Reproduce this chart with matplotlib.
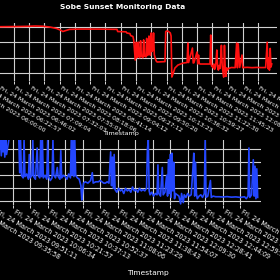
import matplotlib
matplotlib.use("Agg")
import matplotlib.pyplot as plt

# ---------------- data ----------------
title = "Sobe Sunset Monitoring Data"
xlabel = "Timestamp"

# top series (sample index, value)
top_idx = [0, 21, 42, 68, 77, 88, 98, 107, 116, 122, 124, 128, 133, 147, 173, 195, 196, 207, 208, 212, 213, 216, 217,
           219, 220, 221, 222, 223, 224, 225, 226, 227, 228, 229, 230, 231, 232, 233, 234, 235, 236, 237, 238, 239,
           240, 241, 242, 243, 244, 245, 246, 247, 248, 258, 259, 260, 262, 263, 265, 266, 267, 268, 271, 275, 282,
           287, 288, 289, 294, 295, 296, 300, 301, 302, 303, 304, 317, 318, 319,
           320, 321, 322, 323, 324, 325, 326, 327, 328, 329, 330, 331, 332, 333, 334, 335, 336, 337, 338, 339, 340,
           341, 345, 350, 352, 353, 354, 356, 359, 360, 361, 366, 372, 378, 384, 390, 392, 393, 394, 395, 396, 397, 398]
top_val = [100, 100, 100, 100.3, 100.5, 100.9, 100.6, 99.6, 97.7, 95.1, 93.8, 95.1, 96.6, 97.0, 96.9, 96.6, 93.8, 93.4,
           91.9, 91.2, 88.6, 87.4, 82.8,
           57, 80, 60, 62, 80, 61, 60, 82, 62, 61, 60, 83, 62, 62, 61, 85, 63, 64, 88, 65, 63,
           92, 68, 70, 92, 64, 60, 57, 55, 54.5, 55, 93.6, 94.5, 94.2, 93.5, 91.9, 88, 35.1, 37.7, 46.7, 50.6, 53.2,
           53.8, 79, 53.8, 72.5, 53.2, 53.5, 67.4, 52, 63.5, 52.5, 51.9, 51.9, 89.3, 49.3,
           49, 47, 52, 45, 48, 55, 70, 48, 44, 50, 46, 58, 76, 50, 42, 35, 76, 45, 36, 47, 44,
           46, 47.4, 47.2, 79, 47, 78, 47.5, 63.5, 47, 47.4, 47.6, 47.2, 47.5, 47.3, 47.4, 80, 46, 60, 44, 72, 48, 52]

top_ticks = list(range(0, 400, 20))
top_labels = ["Fri, 24 March 2023 " + t for t in [
    "06:00:00", "06:22:57", "06:46:02", "07:09:04", "07:32:03", "07:55:01", "08:18:06", "08:41:14",
    "09:04:12", "09:27:12", "09:50:20", "10:13:23", "10:36:32", "10:59:27", "11:22:30", "11:45:23",
    "12:08:26", "12:31:29", "12:54:33", "13:17:36"]]
top_yticks = [40, 60, 80, 100]

# bottom series (sample index, value)
bot_idx = [0, 4, 8, 12, 16, 20, 24, 25, 26, 27, 28, 29, 30, 31, 32, 33, 36, 40, 44, 47,
           48, 49, 50, 52, 53, 54, 56, 58, 59, 60, 62, 63, 64, 66, 68, 69, 71, 72, 73, 74, 75, 77, 79, 80, 81, 83,
           85, 86, 87, 89, 91, 92, 94, 95, 96, 98, 100, 102, 104, 106, 107, 108, 109, 110, 111, 112, 114, 116, 118,
           119, 120, 121, 123, 126, 129, 131, 132, 135, 138, 140, 142, 144, 146, 148, 150, 152, 153, 154, 155, 156,
           157, 159, 161, 163, 165, 167, 169, 171, 173, 175, 177, 179, 181, 183, 185, 187, 189, 191, 193, 194, 195,
           196, 197, 199, 201, 203, 205, 206, 207, 209, 211, 212, 214, 216, 217, 218, 219, 220, 221, 222, 223, 224,
           225, 226, 228, 230, 232, 233, 235, 236, 238, 240, 242, 244, 246, 247, 248, 249, 250, 251, 253, 255, 257,
           259, 260, 261, 263, 266, 267, 269, 272, 276, 280, 285, 290, 295, 300, 305, 307, 309, 310, 311, 313, 315,
           316, 317, 318, 319, 320]
bot_val = [49, 48, 49, 48, 49, 48, 49, 40, 49, 35, 48, 38, 49, 34, 48, 36, 49, 48, 49, 48,
           22, 47, 20, 18, 47, 19, 21, 17, 36, 18, 20, 47, 19, 17, 41, 20, 18, 47, 19, 47, 18, 20, 17, 47, 19, 16,
           18, 47, 20, 18, 26, 19, 17, 39, 18, 20, 19, 17, 21, 18, 47, 20, 47, 19, 47, 20, 18, 17, 12,
           1, 8, 14, 15, 14, 16, 22, 14, 15, 15, 16, 15, 14, 14, 15, 14, 38, 12, 34, 10, 36,
           9, 7, 10, 8, 9, 6, 10, 8, 9, 7, 11, 8, 9, 7, 10, 8, 9, 8, 10, 40, 47,
           8, 5, 7, 4, 6, 5, 28, 6, 4, 26, 5, 7, 20, 4, 32, 6, 36, 3, 37, 8, 30,
           2, 6, 5, 4, -2, 6, -1, 5, 3, 6, 4, 5, 25, 37, 4, 30, 6, 2, 4, 5, 3,
           6, 47, 3, 4, 16, 3, 4, 3.5, 3.5, 3.3, 3.6, 3.2, 3.4, 3.0, 3.5, 2, 4, 41, 3, 5, 32,
           4, 27, 2, 25, 3]

bot_ticks = list(range(0, 301, 20))
bot_labels = ["Fri, 24 March 2023 " + t for t in [
    "09:35:58", "09:51:11", "10:06:34", "10:21:57", "10:37:13", "10:52:37", "11:08:06", "11:23:29",
    "11:38:43", "11:54:07", "12:09:30", "12:28:41", "12:44:09", "12:59:32", "13:14:55", "13:30:18"]]
bot_yticks = [0, 10, 20, 30, 40]

# ---------------- figure ----------------
W = H = 280
fig = plt.figure(figsize=(2.8, 2.8), dpi=100, facecolor="black")

def px_box(l, t, r, b):
    return [l / W, 1 - b / H, (r - l) / W, (b - t) / H]

ax1 = fig.add_axes(px_box(-40, 23, 277, 81))
ax2 = fig.add_axes(px_box(-40, 140, 261, 205))

grid_kw = dict(color="#d0d0d0", linewidth=0.8)

for ax, ls in ((ax1, 4.4), (ax2, 4.7)):
    ax.set_facecolor("black")
    for s in ax.spines.values():
        s.set_visible(False)
    ax.grid(True, **grid_kw)
    ax.set_axisbelow(True)
    ax.tick_params(axis="x", colors="white", length=2, width=0.6, pad=1, labelsize=ls)
    ax.tick_params(axis="y", colors="white", length=0, labelleft=False)

ax1.plot(top_idx, top_val, color="#ff1010", linewidth=1.2)
ax1.set_xlim(-10.8, 404.9)
ax1.set_ylim(30.0, 104.8)
ax1.set_yticks(top_yticks)
ax1.set_xticks(top_ticks)
ax1.set_xticklabels(top_labels, rotation=-30, ha="left", va="top")

ax2.plot(bot_idx, bot_val, color="#2447ff", linewidth=1.2)
ax2.set_xlim(-20.2, 323.8)
ax2.set_ylim(-2.85, 47.15)
ax2.set_yticks(bot_yticks)
ax2.set_xticks(bot_ticks)
ax2.set_xticklabels(bot_labels, rotation=-30, ha="left", va="top")

ax1.set_title(title, color="white", fontsize=5.4, fontweight="bold", pad=0,
              x=(123 + 40) / 317, y=1 + (23 - 7.5) / 58, va="center")
ax1.set_xlabel(xlabel, color="white", fontsize=4.6, va="center")
ax1.xaxis.set_label_coords(121 / W, 1 - 133.5 / H, transform=fig.transFigure)
ax2.set_xlabel(xlabel, color="white", fontsize=5.4, va="center")
ax2.xaxis.set_label_coords(148 / W, 1 - 273.5 / H, transform=fig.transFigure)

fig.savefig("out.png", dpi=100, facecolor="black")
